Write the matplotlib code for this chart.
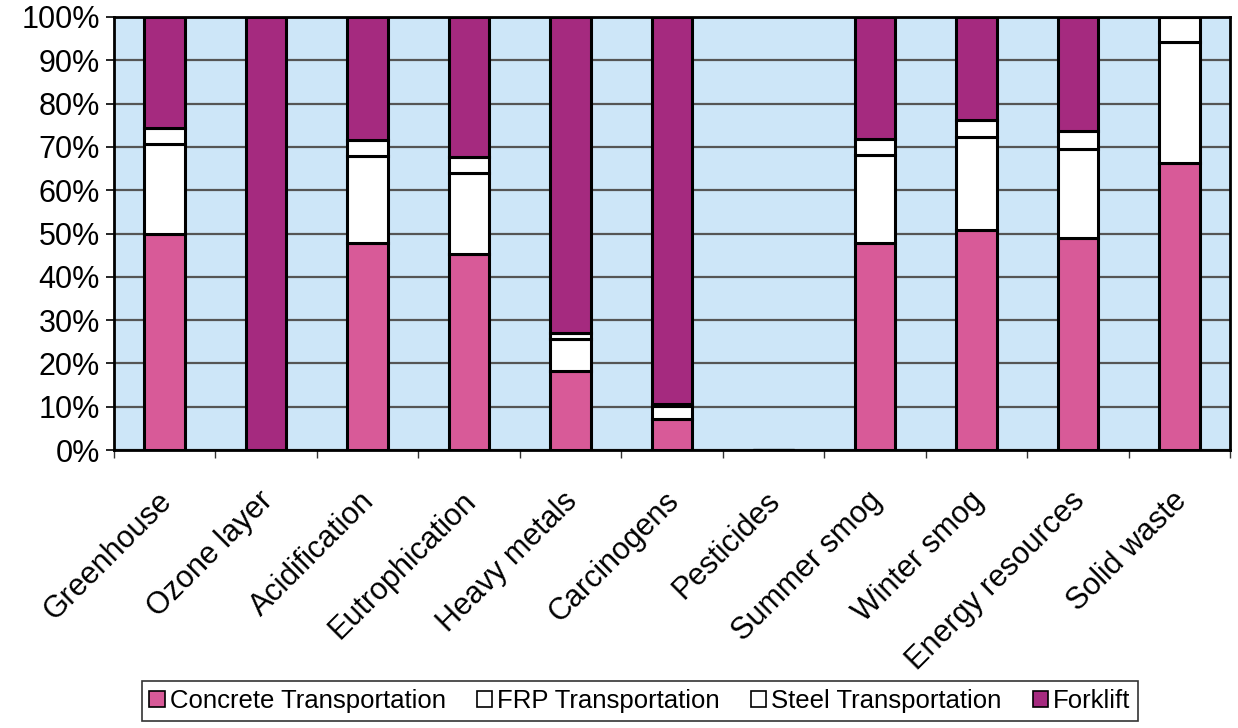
import matplotlib
matplotlib.use("Agg")
import matplotlib.pyplot as plt
import matplotlib.transforms as mtransforms
import numpy as np
from matplotlib.ticker import FixedLocator, PercentFormatter

categories = ["Greenhouse", "Ozone layer", "Acidification", "Eutrophication",
              "Heavy metals", "Carcinogens", "Pesticides", "Summer smog",
              "Winter smog", "Energy resources", "Solid waste"]
concrete = [50.0, 0.0, 47.8, 45.2, 18.2, 7.2, 0.0, 47.8, 50.8, 49.0, 66.2]
frp      = [20.6, 0.0, 20.0, 18.8, 7.4, 3.0, 0.0, 20.4, 21.4, 20.6, 28.0]
steel    = [3.8, 0.0, 3.9, 3.7, 1.5, 0.5, 0.0, 3.7, 4.1, 4.0, 5.8]
forklift = [25.6, 100.0, 28.3, 32.3, 72.9, 89.3, 0.0, 28.1, 23.7, 26.4, 0.0]
series_names = ["Concrete Transportation", "FRP Transportation",
                "Steel Transportation", "Forklift"]
yticks = [0, 10, 20, 30, 40, 50, 60, 70, 80, 90, 100]

plt.rcParams['font.family'] = ['Liberation Sans', 'DejaVu Sans']

fig = plt.figure(figsize=(12.38, 7.28), dpi=100)
ax = fig.add_axes([114/1238, 1-450/728, (1230-114)/1238, (450-17)/728])
ax.set_facecolor('#cde6f8')

x = np.arange(len(categories))
colors = ['#d85a98', '#ffffff', '#ffffff', '#a52a7f']
data = [concrete, frp, steel, forklift]
bottom = np.zeros(len(categories))
bars = []
for vals, c, name in zip(data, colors, series_names):
    b = ax.bar(x, vals, width=0.4, bottom=bottom, color=c, edgecolor='black',
               linewidth=2.2, label=name, zorder=3)
    bars.append(b)
    bottom += np.array(vals)

ax.set_xlim(-0.5, len(categories)-0.5)
ax.set_ylim(0, 100)
ax.yaxis.set_major_locator(FixedLocator(yticks))
ax.yaxis.set_major_formatter(PercentFormatter(decimals=0))
ax.grid(axis='y', color='#555555', linewidth=1.6, zorder=1)
ax.set_axisbelow(True)

ax.set_xticks(x)
ax.set_xticklabels(categories, rotation=45, ha='right', rotation_mode='anchor',
                   fontsize=22)
ax.tick_params(axis='x', which='major', length=0, pad=26)
offset = mtransforms.ScaledTranslation(-8/100, 0, fig.dpi_scale_trans)
for lab in ax.get_xticklabels():
    lab.set_transform(lab.get_transform() + offset)
ax.set_xticks(np.arange(-0.5, len(categories), 1), minor=True)
ax.tick_params(axis='x', which='minor', length=6, width=1, color='#333333')
ax.tick_params(axis='y', labelsize=22, length=6, width=1.2, pad=4)

for s in ax.spines.values():
    s.set_linewidth(2)
    s.set_color('black')

leg = fig.legend(handles=bars, labels=series_names, loc='center',
                 bbox_to_anchor=(640/1238, 1-701/728), ncol=4, fontsize=18.5,
                 frameon=True, fancybox=False, edgecolor='black',
                 handlelength=0.6, handleheight=0.6, handletextpad=0.2,
                 columnspacing=1.2, borderpad=0.3)
leg.get_frame().set_linewidth(1.2)
for h in leg.legend_handles:
    h.set_linewidth(1.2)

fig.savefig('out.png', dpi=100)
